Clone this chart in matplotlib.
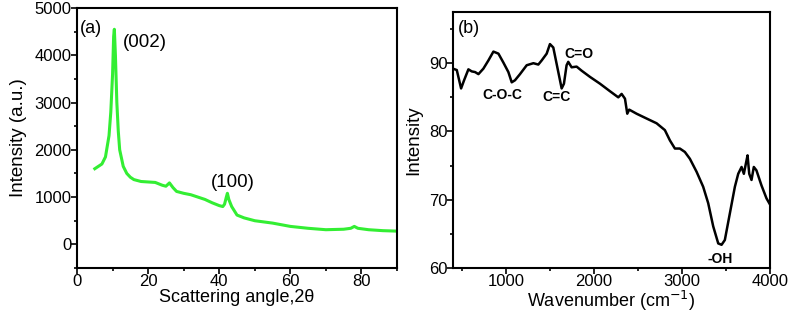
import matplotlib.pyplot as plt
from matplotlib.ticker import MultipleLocator

plt.rcParams['font.family'] = ['Liberation Sans', 'DejaVu Sans']

# (a) XRD pattern
xrd_angle = [5, 6, 7, 8, 9, 9.5, 10, 10.3, 10.5, 10.8, 11.2, 11.6, 12, 13, 14, 15, 16, 18,
             20, 22, 24, 25, 26, 27, 28, 30, 32, 34, 36, 38, 40, 41, 41.5, 42, 42.3, 42.7,
             43.5, 45, 47, 50, 55, 60, 65, 70, 75, 77, 78, 79, 82, 86, 90]
xrd_counts = [1600, 1650, 1700, 1850, 2300, 2800, 3600, 4400, 4550, 4000, 3000, 2400, 2000,
              1650, 1500, 1420, 1370, 1330, 1320, 1310, 1250, 1230, 1300, 1200, 1120, 1080,
              1050, 1000, 950, 880, 820, 800, 850, 1000, 1080, 950, 800, 620, 560, 500, 450,
              380, 340, 310, 320, 340, 380, 340, 310, 290, 280]

# (b) FTIR spectrum
ir_wavenumber = [400, 443, 492, 526, 575, 613, 651, 689, 745, 802, 859, 916, 972, 1029, 1067,
                 1104, 1161, 1237, 1313, 1369, 1407, 1464, 1501, 1539, 1577, 1615, 1634, 1660,
                 1690, 1709, 1747, 1804, 1861, 1955, 2069, 2182, 2277, 2315, 2353, 2379, 2401,
                 2485, 2598, 2712, 2806, 2863, 2920, 2976, 3033, 3090, 3166, 3241, 3298, 3355,
                 3412, 3450, 3487, 3544, 3601, 3639, 3677, 3703, 3726, 3745, 3764, 3790, 3816,
                 3846, 3903, 3960, 4000]
ir_intensity = [89.2, 89.0, 86.3, 87.5, 89.1, 88.8, 88.7, 88.4, 89.2, 90.4, 91.7, 91.4, 90.1,
                88.7, 87.2, 87.5, 88.4, 89.7, 90.0, 89.8, 90.4, 91.4, 92.8, 92.3, 89.9, 87.5,
                86.3, 87.0, 89.7, 90.2, 89.4, 89.5, 88.9, 88.0, 87.0, 85.9, 85.0, 85.5, 84.8,
                82.6, 83.2, 82.6, 81.9, 81.2, 80.2, 78.7, 77.5, 77.5, 77.0, 76.0, 74.1, 71.9,
                69.5, 66.1, 63.6, 63.4, 64.1, 68.0, 71.9, 73.8, 74.8, 73.8, 75.3, 76.5, 73.8,
                72.9, 74.8, 74.3, 72.1, 70.2, 69.3]

ir_labels = ["C-O-C", "C=C", "C=O", "-OH"]
ir_label_x = [957, 1578, 1832, 3434]
ir_label_y = [85.3, 85.0, 91.3, 61.3]


def style_axes(ax):
    for s in ax.spines.values():
        s.set_linewidth(1.5)
    ax.tick_params(which='both', direction='out', width=1.2, labelsize=12, pad=0)
    ax.tick_params(which='major', length=4)
    ax.tick_params(which='minor', length=2.5)
    ax.tick_params(top=False, right=False)


fig = plt.figure(figsize=(7.9, 3.2), dpi=100)
ax1 = fig.add_axes([0.0975, 0.1625, 0.405, 0.8125])
ax2 = fig.add_axes([0.5734, 0.1625, 0.4013, 0.80])

ax1.plot(xrd_angle, xrd_counts, color='#33ee33', linewidth=2.2)
ax1.set_xlim(0, 90)
ax1.set_ylim(-500, 5000)
ax1.xaxis.set_major_locator(MultipleLocator(20))
ax1.xaxis.set_minor_locator(MultipleLocator(10))
ax1.yaxis.set_major_locator(MultipleLocator(1000))
ax1.yaxis.set_minor_locator(MultipleLocator(500))
style_axes(ax1)
ax1.set_xlabel("Scattering angle,2\u03b8", fontsize=13, labelpad=0)
ax1.set_ylabel("Intensity (a.u.)", fontsize=13.5, labelpad=5)
ax1.text(0.01, 0.955, "(a)", transform=ax1.transAxes, fontsize=13, va='top', ha='left')
ax1.text(12.9, 4270, "(002)", fontsize=13.5, va='center', ha='left')
ax1.text(37.7, 1318, "(100)", fontsize=13.5, va='center', ha='left')

ax2.plot(ir_wavenumber, ir_intensity, color='black', linewidth=1.8)
ax2.set_xlim(400, 4000)
ax2.set_ylim(60, 97.5)
ax2.xaxis.set_major_locator(MultipleLocator(1000))
ax2.xaxis.set_minor_locator(MultipleLocator(500))
ax2.yaxis.set_major_locator(MultipleLocator(10))
ax2.yaxis.set_minor_locator(MultipleLocator(5))
style_axes(ax2)
ax2.set_xlabel("Wavenumber (cm$^{-1}$)", fontsize=13, labelpad=0)
ax2.set_ylabel("Intensity", fontsize=13.5, labelpad=5)
ax2.text(0.015, 0.97, "(b)", transform=ax2.transAxes, fontsize=13, va='top', ha='left')
for lab, lx, ly in zip(ir_labels, ir_label_x, ir_label_y):
    ax2.text(lx, ly, lab, fontsize=10, fontweight='bold', ha='center', va='center')

fig.savefig("out.png", dpi=100)
